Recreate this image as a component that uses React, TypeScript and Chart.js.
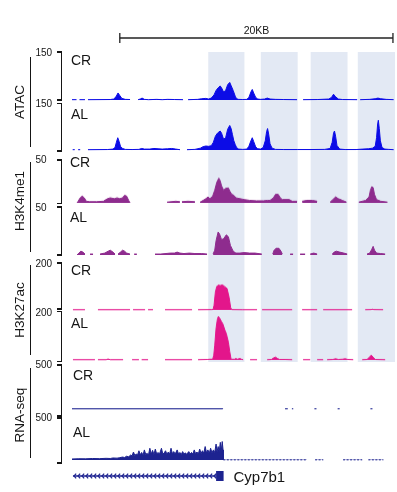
import React, { useEffect, useRef } from 'react';
import { Chart, registerables } from 'chart.js';

Chart.register(...registerables);

type Pt = [number, number] | null;

// ---------- data (x in kb from the left edge of the view, y = signal) ----------
const X_MIN = 0;
const X_MAX = 23.65;

const conditions = ['CR', 'AL'];
const assayNames = ['ATAC', 'H3K4me1', 'H3K27ac', 'RNA-seq'];
const assayMax = [150, 50, 200, 500];
const assayColors = ['#0c0ce6', '#8e2c8e', '#e3168b', '#1d2390'];

const bandRanges: [number, number][] = [
  [10.0, 12.6],
  [13.85, 16.5],
  [17.5, 20.15],
  [20.95, 23.65],
];
const scaleBar: [number, number] = [3.5, 23.5];
const scaleBarLabel = '20KB';
const geneName = 'Cyp7b1';
const geneStart = 0.07;
const geneExonStart = 10.55;
const geneEnd = 11.1;

const atacCR: Pt[] = [
  [0.0, 1], [0.33, 1], null, [0.55, 1], [0.95, 1], null,
  [1.17, 1], [2.8, 1.5], [3.05, 3], [3.22, 10], [3.37, 22], [3.5, 14], [3.65, 5], [3.9, 2], [4.25, 1.5], null,
  [4.84, 1], [5.0, 3], [5.13, 6], [5.3, 2], [5.6, 1], [6.2, 2], [6.6, 1], [7.0, 2], [7.5, 1.5], [8.13, 1], null,
  [8.5, 1], [9.2, 2], [9.5, 4], [9.8, 5], [10.0, 3], [10.2, 6], [10.4, 16], [10.55, 30], [10.7, 38], [10.85, 44],
  [10.95, 38], [11.1, 25], [11.25, 30], [11.4, 48], [11.55, 55], [11.65, 45], [11.8, 30], [11.95, 12], [12.05, 4],
  [12.2, 2], [12.5, 1.5], [12.8, 2], [12.95, 8], [13.1, 25], [13.2, 33], [13.3, 22], [13.45, 8], [13.6, 3], [13.8, 2],
  [14.1, 3], [14.3, 6], [14.5, 3], [14.9, 2], [15.5, 1.5], [16.48, 1], null,
  [16.92, 1], [18.0, 1.5], [18.8, 3], [19.0, 8], [19.15, 18], [19.3, 10], [19.5, 3], [19.8, 1.5], [20.88, 1], null,
  [21.1, 1], [21.8, 2], [22.2, 4], [22.4, 6], [22.6, 4], [23.0, 2], [23.55, 1],
];

const atacAL: Pt[] = [
  [0.05, 1], [0.2, 1], null, [0.45, 1], [0.6, 1], null,
  [1.17, 1], [2.6, 1.5], [3.0, 3], [3.15, 8], [3.25, 25], [3.35, 40], [3.45, 28], [3.55, 12], [3.7, 5], [3.9, 2],
  [4.4, 1.5], [4.9, 2], [5.1, 5], [5.3, 3], [5.7, 3], [6.0, 5], [6.3, 4], [6.6, 3], [7.0, 4], [7.3, 5], [7.6, 3], [7.91, 1], null,
  [8.42, 1], [9.0, 2], [9.4, 6], [9.6, 11], [9.8, 13], [10.0, 12], [10.2, 14], [10.35, 25], [10.5, 45], [10.65, 55],
  [10.85, 62], [10.95, 55], [11.1, 35], [11.25, 40], [11.4, 68], [11.55, 80], [11.65, 70], [11.75, 50], [11.85, 30],
  [11.95, 18], [12.05, 8], [12.2, 3], [12.5, 2], [12.8, 3], [12.95, 12], [13.1, 30], [13.2, 40], [13.3, 28], [13.45, 10],
  [13.6, 4], [13.8, 3], [14.0, 8], [14.15, 30], [14.25, 60], [14.32, 70], [14.4, 52], [14.5, 20], [14.65, 6], [14.9, 2],
  [15.5, 1.5], [16.5, 1.5], [17.5, 1.5], [18.5, 2], [18.9, 5], [19.05, 25], [19.15, 55], [19.22, 62], [19.3, 45],
  [19.4, 15], [19.6, 3], [20.0, 1.5], [20.8, 1.5], [21.3, 3], [21.7, 4], [22.0, 6], [22.2, 12], [22.3, 40], [22.38, 85],
  [22.43, 97], [22.5, 70], [22.58, 30], [22.7, 8], [22.9, 3], [23.2, 2], [23.55, 1],
];

const k4CR: Pt[] = [
  [0.37, 0], [0.45, 2], [0.6, 6], [0.75, 8], [0.9, 6], [1.05, 2], [1.3, 1.5], [1.8, 1.5], [2.3, 2], [2.6, 5], [2.8, 6],
  [3.1, 5], [3.3, 6], [3.5, 5], [3.7, 6], [3.85, 9], [4.0, 8], [4.15, 3], [4.25, 0], null,
  [6.96, 1], [7.6, 2], [7.9, 1.5], null, [8.05, 1.5], [8.5, 2], [9.0, 1.5], null,
  [9.38, 1], [9.6, 3], [9.8, 5], [9.96, 7], [10.1, 5], [10.3, 8], [10.45, 15], [10.6, 24], [10.75, 29], [10.85, 26],
  [10.95, 20], [11.1, 15], [11.25, 17], [11.45, 17.5], [11.55, 14], [11.7, 10], [11.85, 9], [12.0, 6], [12.3, 5],
  [12.6, 4], [13.0, 3], [13.5, 2.5], [14.0, 2.5], [14.3, 3], [14.5, 3], [14.75, 6], [14.9, 10], [15.1, 10], [15.25, 6],
  [15.4, 4], [15.9, 4], [16.12, 2], [16.48, 2], null,
  [16.85, 2], [17.2, 3], [17.6, 3], [17.95, 2], null,
  [18.9, 1], [19.1, 4], [19.3, 7], [19.5, 5], [19.8, 3], [20.1, 1], null,
  [21.0, 1], [21.5, 3], [21.75, 7], [21.85, 15], [21.95, 19], [22.05, 18], [22.15, 10], [22.3, 4], [22.6, 2], [23.1, 1],
];

const k4AL: Pt[] = [
  [0.37, 0], [0.5, 2], [0.65, 4], [0.8, 3], [0.95, 1], null,
  [1.32, 1], [1.54, 1], null,
  [2.05, 1], [2.4, 2], [2.65, 4], [2.8, 5], [3.0, 3], [3.15, 1], null,
  [3.37, 1], [3.55, 3], [3.7, 5], [3.85, 4], [4.0, 2], [4.25, 1], null,
  [4.55, 1], [4.75, 1], null,
  [6.08, 1], [6.5, 1], [7.2, 2], [7.5, 2], [7.7, 3], [7.9, 2], [8.2, 1.5], [8.6, 2], [9.0, 1.5], [9.5, 1.5], [9.89, 1], null,
  [10.33, 1], [10.45, 5], [10.55, 15], [10.7, 24], [10.8, 22], [10.95, 16], [11.1, 17], [11.3, 21], [11.45, 19],
  [11.6, 10], [11.8, 4], [12.0, 2], [12.3, 2], [12.6, 2.5], [13.0, 2], [13.4, 2], [13.9, 1], null,
  [14.7, 1], [14.8, 5], [14.95, 7], [15.15, 7], [15.3, 4], [15.4, 1], null,
  [15.97, 1], [16.19, 1], null, [16.7, 1], [17.07, 1], null, [17.44, 1], [17.7, 2], [17.95, 1], null,
  [19.05, 1], [19.2, 3], [19.35, 4], [19.6, 3], [19.9, 2], [20.15, 1], null,
  [21.6, 1], [21.8, 2], [21.95, 6], [22.05, 9], [22.15, 5], [22.3, 2], [22.6, 1.5], [22.93, 1],
];

const k27CR: Pt[] = [
  [0.07, 1], [0.95, 1], null,
  [1.9, 1], [4.25, 1], null,
  [4.47, 1], [5.35, 1], null,
  [5.57, 1], [5.93, 1], null,
  [6.81, 1], [8.79, 1], null,
  [9.23, 1], [10.2, 1.5], [10.33, 2], [10.4, 20], [10.5, 77], [10.6, 100], [10.7, 106], [10.85, 104], [11.0, 107],
  [11.1, 104], [11.2, 98], [11.35, 92], [11.5, 55], [11.62, 10], [11.7, 1.5], [12.5, 1], [13.55, 1], null,
  [13.92, 1], [16.12, 1], null,
  [16.85, 1], [17.95, 1], null,
  [18.39, 1], [20.51, 1], null,
  [21.47, 1], [21.9, 1.5], [22.0, 3], [22.1, 1.5], [22.78, 1],
];

const k27AL: Pt[] = [
  [0.07, 1], [1.68, 1], null,
  [1.9, 1], [2.5, 1], [2.64, 4], [2.8, 1], [3.74, 1], null,
  [4.4, 1], [4.9, 1], null, [5.1, 1], [5.57, 1], null,
  [6.81, 1], [8.79, 1], null,
  [9.23, 1], [9.9, 2], [10.1, 3], [10.3, 3], [10.38, 20], [10.45, 61], [10.55, 133], [10.65, 172], [10.72, 182],
  [10.8, 176], [10.96, 159], [11.05, 150], [11.2, 124], [11.3, 110], [11.45, 75], [11.55, 35], [11.65, 3], [11.9, 3],
  [12.0, 6], [12.1, 3], [12.3, 6], [12.4, 3], [12.53, 1], null,
  [13.04, 1], [13.55, 1], null,
  [14.29, 1], [14.6, 2], [14.75, 8], [14.9, 12], [15.05, 6], [15.2, 2], [15.6, 2], [16.12, 1], null,
  [16.92, 1], [17.44, 1], null,
  [17.95, 1], [18.39, 1], null,
  [18.68, 1], [19.1, 2], [19.3, 5], [19.5, 2], [19.8, 3], [20.0, 5], [20.2, 2], [20.59, 1], null,
  [21.25, 1], [21.6, 2], [21.75, 10], [21.9, 20], [22.05, 12], [22.2, 2], [22.93, 1],
];

const rnaCR: Pt[] = [
  [0.0, 2], [11.0, 2], [11.06, 4], null,
  [15.6, 2], [15.8, 2], null, [16.1, 2], [16.2, 2], null,
  [17.75, 2], [17.9, 2], null, [19.45, 2], [19.6, 2], null, [21.85, 2], [22.0, 2],
];

const rnaAL: Pt[] = [
  [0.0, 12], [0.5, 15], [1.0, 14], [1.5, 18], [2.0, 16], [2.5, 20], [2.8, 18], [3.0, 24], [3.3, 22], [3.5, 28],
  [3.7, 35], [3.85, 30], [4.0, 45], [4.15, 38], [4.3, 60], [4.4, 50], [4.5, 95], [4.6, 55], [4.7, 70],
  [4.8, 60], [4.9, 110], [5.0, 62], [5.1, 90], [5.2, 58], [5.3, 120], [5.4, 65], [5.5, 80], [5.6, 60], [5.7, 140],
  [5.8, 70], [5.9, 115], [6.0, 65], [6.1, 130], [6.2, 72], [6.3, 90], [6.4, 68], [6.55, 140], [6.65, 70],
  [6.75, 85], [6.85, 110], [6.95, 68], [7.05, 95], [7.15, 70], [7.25, 140], [7.35, 75], [7.45, 100], [7.55, 70],
  [7.7, 120], [7.8, 72], [7.9, 90], [8.0, 65], [8.1, 100], [8.2, 70], [8.3, 85], [8.4, 68], [8.55, 100], [8.65, 72],
  [8.75, 90], [8.85, 70], [8.95, 120], [9.05, 75], [9.15, 95], [9.25, 72], [9.35, 130], [9.45, 78], [9.55, 110],
  [9.65, 80], [9.75, 160], [9.85, 85], [9.95, 120], [10.05, 80], [10.15, 140], [10.25, 85], [10.35, 120], [10.45, 90],
  [10.55, 190], [10.62, 95], [10.7, 160], [10.78, 100], [10.86, 210], [10.93, 110], [11.0, 220], [11.06, 120],
  [11.08, 2], [17.2, 2], null, [17.8, 2], [18.4, 2], null, [19.85, 2], [21.25, 2], null, [21.7, 2], [22.8, 2],
];

const trackData: Pt[][][] = [
  [atacCR, atacAL],
  [k4CR, k4AL],
  [k27CR, k27AL],
  [rnaCR, rnaAL],
];

// ---------- layout (pixels) ----------
const FONT = "'Liberation Sans', Arial, Helvetica, sans-serif";
const PLOT_LEFT = 72;
const PLOT_WIDTH = 323;
const BAND_COLOR = '#e3e9f4';
const INK = '#151515';

// per assay, per condition: pixel of max value, pixel of zero, bracket top/bottom, tick-label centre, condition label cap-top
const trackLayout = [
  [
    { top: 52, base: 100, brTop: 52, brBot: 100, tickY: 52.7, labY: 55, labX: 71 },
    { top: 103.5, base: 150, brTop: 103.5, brBot: 151, tickY: 103.8, labY: 109, labX: 71 },
  ],
  [
    { top: 160, base: 202.5, brTop: 160, brBot: 203.5, tickY: 159.7, labY: 157, labX: 70 },
    { top: 207, base: 255, brTop: 207, brBot: 255, tickY: 207.8, labY: 211.7, labX: 70 },
  ],
  [
    { top: 263, base: 309.5, brTop: 263, brBot: 309, tickY: 263.7, labY: 265, labX: 71 },
    { top: 312, base: 359.5, brTop: 311.5, brBot: 361.5, tickY: 312.5, labY: 318, labX: 71 },
  ],
  [
    { top: 365, base: 409, brTop: 365, brBot: 416, tickY: 365.3, labY: 370, labX: 73 },
    { top: 418, base: 460, brTop: 418, brBot: 463, tickY: 418, labY: 426.7, labX: 73 },
  ],
];
const groupLayout = [
  { lineTop: 57, lineBot: 147, cy: 102 },
  { lineTop: 162, lineBot: 252, cy: 201 },
  { lineTop: 265, lineBot: 355, cy: 310 },
  { lineTop: 368, lineBot: 458, cy: 414.5 },
];

function toXY(pts: Pt[]) {
  const out: { x: number; y: number | null }[] = [];
  let lastX = 0;
  for (const p of pts) {
    if (p) {
      out.push({ x: p[0], y: p[1] });
      lastX = p[0];
    } else {
      out.push({ x: lastX, y: null });
    }
  }
  return out;
}

const baseOptions = (padTop: number, padBottom: number) => ({
  animation: false as const,
  responsive: false,
  devicePixelRatio: 1,
  events: [] as any[],
  layout: { autoPadding: false, padding: { top: padTop, bottom: padBottom, left: 0, right: 0 } },
  plugins: { legend: { display: false }, tooltip: { enabled: false } },
});

function ChartCanvas(props: { left: number; top: number; width: number; height: number; make: () => any }) {
  const ref = useRef<HTMLCanvasElement>(null);
  useEffect(() => {
    const chart = new Chart(ref.current as HTMLCanvasElement, props.make());
    return () => chart.destroy();
  }, []);
  return (
    <canvas
      ref={ref}
      width={props.width}
      height={props.height}
      style={{ position: 'absolute', left: props.left, top: props.top, width: props.width, height: props.height }}
    />
  );
}

function trackConfig(pts: Pt[], color: string, max: number, pad: number, dashed: boolean) {
  return {
    type: 'line',
    data: {
      datasets: [
        {
          data: toXY(pts),
          borderColor: color,
          backgroundColor: color,
          borderWidth: 1,
          fill: 'origin',
          pointRadius: 0,
          tension: 0,
          spanGaps: false,
          clip: false,
          segment: dashed
            ? { borderDash: (ctx: any) => (ctx.p0.parsed.y <= 2 && ctx.p1.parsed.y <= 2 ? [2, 1.5] : undefined) }
            : undefined,
        },
      ],
    },
    options: {
      ...baseOptions(pad, pad),
      scales: {
        x: { type: 'linear', min: X_MIN, max: X_MAX, display: false },
        y: { type: 'linear', min: 0, max, display: false },
      },
    },
  };
}

function bandConfig() {
  return {
    type: 'bar',
    data: {
      labels: ['bands'],
      datasets: bandRanges.map((r) => ({
        data: [r],
        backgroundColor: BAND_COLOR,
        borderWidth: 0,
        grouped: false,
        barPercentage: 1,
        categoryPercentage: 1,
      })),
    },
    options: {
      ...baseOptions(0, 0),
      indexAxis: 'y',
      scales: {
        x: { type: 'linear', min: X_MIN, max: X_MAX, display: false },
        y: { type: 'category', display: false },
      },
    },
  };
}

function scaleBarConfig() {
  return {
    type: 'line',
    data: {
      datasets: [
        {
          data: scaleBar.map((x) => ({ x, y: 0 })),
          borderColor: '#222',
          borderWidth: 1.3,
          pointStyle: 'line',
          pointRotation: 90,
          pointRadius: 5,
          pointBorderWidth: 1.3,
          pointBorderColor: '#222',
          clip: false,
        },
      ],
    },
    options: {
      ...baseOptions(0, 0),
      scales: {
        x: { type: 'linear', min: X_MIN, max: X_MAX, display: false },
        y: { type: 'linear', min: -1, max: 1, display: false },
      },
    },
  };
}

function geneConfig() {
  const color = assayColors[3];
  return {
    type: 'line',
    data: {
      datasets: [
        {
          data: [{ x: geneStart, y: 0 }, { x: geneExonStart, y: 0 }],
          borderColor: color,
          borderWidth: 1.3,
          pointRadius: 0,
          clip: false,
        },
        {
          data: [{ x: geneExonStart, y: 0 }, { x: geneEnd, y: 0 }],
          borderColor: color,
          borderWidth: 10,
          borderCapStyle: 'butt',
          pointRadius: 0,
          clip: false,
        },
      ],
    },
    options: {
      ...baseOptions(0, 0),
      scales: {
        x: { type: 'linear', min: X_MIN, max: X_MAX, display: false },
        y: { type: 'linear', min: -1, max: 1, display: false },
      },
    },
    plugins: [
      {
        id: 'strandChevrons',
        afterDatasetsDraw(chart: any) {
          const { ctx, scales } = chart;
          const y0 = scales.y.getPixelForValue(0);
          const a = scales.x.getPixelForValue(geneStart);
          const b = scales.x.getPixelForValue(geneExonStart);
          ctx.save();
          ctx.strokeStyle = color;
          ctx.lineWidth = 1.2;
          for (let px = a + 1; px < b - 2; px += 4) {
            ctx.beginPath();
            ctx.moveTo(px + 2.2, y0 - 2.4);
            ctx.lineTo(px, y0);
            ctx.lineTo(px + 2.2, y0 + 2.4);
            ctx.stroke();
          }
          ctx.restore();
        },
      },
    ],
  };
}

function Text(props: { x: number; capTop: number; size: number; text: string; align?: 'left' | 'center' }) {
  const { x, capTop, size, text, align = 'left' } = props;
  return (
    <div
      style={{
        position: 'absolute',
        left: x,
        top: capTop - 0.13 * size,
        fontFamily: FONT,
        fontSize: size,
        lineHeight: 1,
        color: INK,
        whiteSpace: 'nowrap',
        transform: align === 'center' ? 'translateX(-50%)' : undefined,
      }}
    >
      {text}
    </div>
  );
}

function VLine(props: { x: number; y1: number; y2: number; w?: number }) {
  const w = props.w ?? 1.3;
  return (
    <div
      style={{ position: 'absolute', left: props.x - w / 2, top: props.y1, width: w, height: props.y2 - props.y1, background: INK }}
    />
  );
}

function HLine(props: { x1: number; x2: number; y: number; w?: number }) {
  const w = props.w ?? 1.3;
  return (
    <div
      style={{ position: 'absolute', left: props.x1, top: props.y - w / 2, width: props.x2 - props.x1, height: w, background: INK }}
    />
  );
}

export default function App() {
  const PAD = 3;
  const tickSize = 10;
  return (
    <div style={{ position: 'absolute', left: 0, top: 0, width: 397, height: 492, background: '#fff', overflow: 'hidden' }}>
      {/* highlight bands */}
      <ChartCanvas left={PLOT_LEFT} top={52} width={PLOT_WIDTH} height={310} make={bandConfig} />

      {/* scale bar */}
      <ChartCanvas left={PLOT_LEFT} top={31} width={PLOT_WIDTH} height={14} make={scaleBarConfig} />
      <Text x={256.5} capTop={26} size={10.5} text={scaleBarLabel} align="center" />

      {/* tracks */}
      {assayNames.map((name, g) => (
        <React.Fragment key={name}>
          {conditions.map((cond, c) => {
            const L = trackLayout[g][c];
            return (
              <React.Fragment key={cond}>
                <ChartCanvas
                  left={PLOT_LEFT}
                  top={L.top - PAD}
                  width={PLOT_WIDTH}
                  height={L.base - L.top + 2 * PAD}
                  make={() => trackConfig(trackData[g][c], assayColors[g], assayMax[g], PAD, g === 3 && c === 1)}
                />
                <Text x={L.labX} capTop={L.labY} size={14} text={cond} />
                <Text x={35.5} capTop={L.tickY - 0.358 * tickSize} size={tickSize} text={String(assayMax[g])} />
                <VLine x={61.7} y1={L.brTop} y2={L.brBot} />
                <HLine x1={57} x2={62.3} y={L.brTop} />
                <HLine x1={57} x2={62.3} y={L.brBot} />
              </React.Fragment>
            );
          })}
          <VLine x={30.7} y1={groupLayout[g].lineTop} y2={groupLayout[g].lineBot} />
          <div
            style={{
              position: 'absolute',
              left: 20,
              top: groupLayout[g].cy,
              transform: 'translate(-50%, -50%) rotate(-90deg)',
              fontFamily: FONT,
              fontSize: 13.5,
              lineHeight: 1,
              color: INK,
              whiteSpace: 'nowrap',
            }}
          >
            {name}
          </div>
        </React.Fragment>
      ))}

      {/* gene model */}
      <ChartCanvas left={PLOT_LEFT} top={468} width={PLOT_WIDTH} height={16} make={geneConfig} />
      <Text x={233.5} capTop={470.5} size={15} text={geneName} />
    </div>
  );
}
